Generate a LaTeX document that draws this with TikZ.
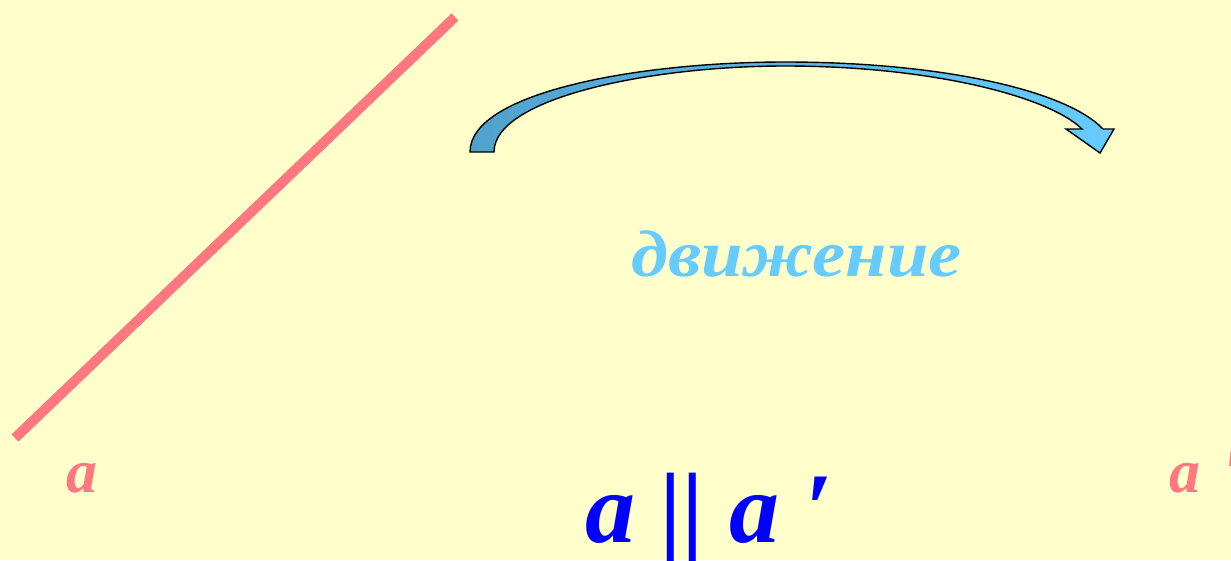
\documentclass[tikz,border=0pt]{standalone}
\usepackage{fontspec}
\setmainfont{Liberation Serif}
\definecolor{bgyellow}{RGB}{255,255,204}
\definecolor{pinkline}{RGB}{255,120,128}
\definecolor{lightblue}{RGB}{102,204,255}
\definecolor{darkblue}{RGB}{80,162,204}
\definecolor{pureblue}{RGB}{0,0,255}
\tikzset{
  lbl/.style={anchor=base west, inner sep=0pt, outer sep=0pt, font=\bfseries\itshape},
  lineA/.style={draw=pinkline, line width=10pt},
  bentarrow/.style={draw=black, line width=1.4pt, line join=miter, left color=darkblue, right color=lightblue}
}
\begin{document}
\begin{tikzpicture}[x=1pt,y=-1pt]
\fill[bgyellow] (0,0) rectangle (1231,560);
\useasboundingbox (0,0) rectangle (1231,560);
% line a
\coordinate (l1) at (15,438);
\coordinate (l2) at (455,17);
\draw[lineA] (l1) -- (l2);
% curved block arrow
\path[bentarrow] (470,152) .. controls (470,92) and (640,62) .. (785,62)
  .. controls (940,62) and (1066,90) .. (1103,129)
  -- (1114,129) -- (1100,153) -- (1066,129) -- (1082,129)
  .. controls (1048,96) and (930,66) .. (785,66)
  .. controls (650,66) and (494,98) .. (494,152) -- cycle;
% texts
\node[lbl, text=lightblue, font=\bfseries\itshape\fontsize{66}{66}\selectfont] (mv) at (631,276) {\scalebox{1.13}[1]{движение}};
\node[lbl, text=pinkline, font=\bfseries\itshape\fontsize{62}{62}\selectfont] (a1) at (66,492) {a};
\node[lbl, text=pinkline, font=\bfseries\itshape\fontsize{62}{62}\selectfont] (a2) at (1169,492) {a\hspace{0.4em}′};
\node[lbl, text=pureblue, font=\bfseries\itshape\fontsize{100}{100}\selectfont] (par) at (585,542) {a || a ′};
\end{tikzpicture}
\end{document}
